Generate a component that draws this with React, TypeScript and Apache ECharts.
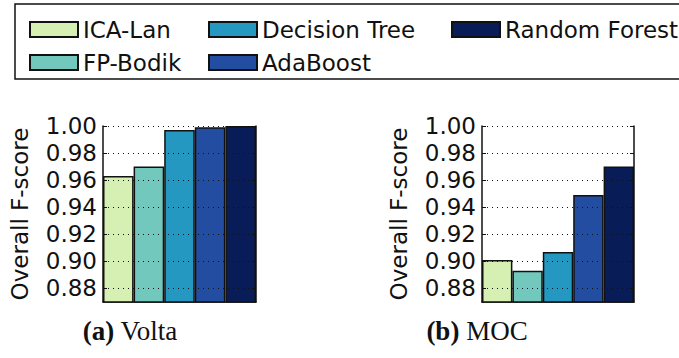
import React, { useEffect, useRef } from "react";
import * as echarts from "echarts";

const datasets = ["Volta", "MOC"];
const captionTags = ["(a)", "(b)"];
const methods = ["ICA-Lan", "FP-Bodik", "Decision Tree", "AdaBoost", "Random Forest"];
const voltaScores = [0.963, 0.970, 0.997, 0.999, 1.0];
const mocScores = [0.901, 0.893, 0.907, 0.949, 0.970];
const yTicks = [0.88, 0.9, 0.92, 0.94, 0.96, 0.98, 1.0];
const colors = ["#d6efb3", "#73c8bd", "#2498c1", "#234da0", "#081d58"];

const SANS = "DejaVu Sans";
const SERIF = "Liberation Serif";

export default function App() {
  const ref = useRef<HTMLDivElement>(null);

  useEffect(() => {
    if (!ref.current) return;
    const chart = echarts.init(ref.current, null, { renderer: "svg" });
    const scores = [voltaScores, mocScores];
    const grids = [
      { left: 103, top: 126, width: 153, height: 176 },
      { left: 482, top: 126, width: 152, height: 176 },
    ];

    const xAxis = datasets.map((d, gi) => ({
      type: "category",
      gridIndex: gi,
      data: [d],
      axisLabel: { show: false },
      axisTick: { show: false },
      axisLine: { show: true, lineStyle: { color: "#111", width: 1.5 } },
    }));

    const yAxis: any[] = [];
    datasets.forEach((_, gi) => {
      yAxis.push({
        type: "value",
        gridIndex: gi,
        min: 0.87,
        max: 1.0,
        z: 5,
        name: "Overall F-score",
        nameLocation: "middle",
        nameGap: 72,
        nameTextStyle: { fontSize: 23, color: "#111", fontFamily: SANS },
        axisLine: { show: true, lineStyle: { color: "#111", width: 1.5 } },
        axisTick: {
          show: true,
          inside: true,
          length: 4,
          customValues: yTicks,
          lineStyle: { color: "#111", width: 1 },
        },
        axisLabel: {
          customValues: yTicks,
          formatter: (v: number) => v.toFixed(2),
          fontSize: 23,
          color: "#111",
          fontFamily: SANS,
          margin: 6,
        },
        splitLine: {
          show: true,
          lineStyle: { color: "#111", width: 1, type: [1, 4] },
        },
      });
      yAxis.push({
        type: "value",
        gridIndex: gi,
        position: "right",
        min: 0.87,
        max: 1.0,
        z: 5,
        axisLine: { show: true, lineStyle: { color: "#111", width: 1.5 } },
        axisTick: {
          show: true,
          inside: true,
          length: 4,
          customValues: yTicks,
          lineStyle: { color: "#111", width: 1 },
        },
        axisLabel: { show: false },
        splitLine: { show: false },
      });
    });

    const series: any[] = [];
    datasets.forEach((_, gi) => {
      methods.forEach((m, i) => {
        series.push({
          type: "bar",
          name: m,
          xAxisIndex: gi,
          yAxisIndex: gi * 2,
          data: [scores[gi][i]],
          barGap: "0%",
          barCategoryGap: "0%",
          itemStyle: { color: colors[i], borderColor: "#111", borderWidth: 1.5 },
        });
      });
    });

    const legendBase = {
      orient: "vertical",
      top: 13,
      itemWidth: 48,
      itemHeight: 15,
      itemGap: 10,
      icon: "rect",
      selectedMode: false,
      textStyle: { fontSize: 23, color: "#111", fontFamily: SANS, lineHeight: 23 },
    };

    chart.setOption({
      animation: false,
      backgroundColor: "#fff",
      grid: grids.map((g) => ({ ...g, show: false })),
      xAxis,
      yAxis,
      series,
      legend: [
        { ...legendBase, left: 24, data: [methods[0], methods[1]] },
        { ...legendBase, left: 203, data: [methods[2], methods[3]] },
        { ...legendBase, left: 446, data: [methods[4]] },
      ],
      graphic: [
        {
          type: "rect",
          shape: { x: 15, y: 4, width: 720, height: 75 },
          style: { fill: "none", stroke: "#111", lineWidth: 1.5 },
          z: 10,
        },
        ...datasets.map((d, gi) => ({
          type: "text",
          x: [130, 477][gi],
          y: 331,
          style: {
            text: `{b|${captionTags[gi]}} ${d}`,
            fontSize: 27,
            fontFamily: SERIF,
            fill: "#111",
            align: "center",
            verticalAlign: "middle",
            rich: { b: { fontWeight: "bold", fontSize: 27, fontFamily: SERIF, fill: "#111" } },
          },
        })),
      ],
    });
    return () => chart.dispose();
  }, []);

  return (
    <div
      ref={ref}
      style={{ position: "absolute", left: 0, top: 0, width: 679, height: 358 }}
    />
  );
}
